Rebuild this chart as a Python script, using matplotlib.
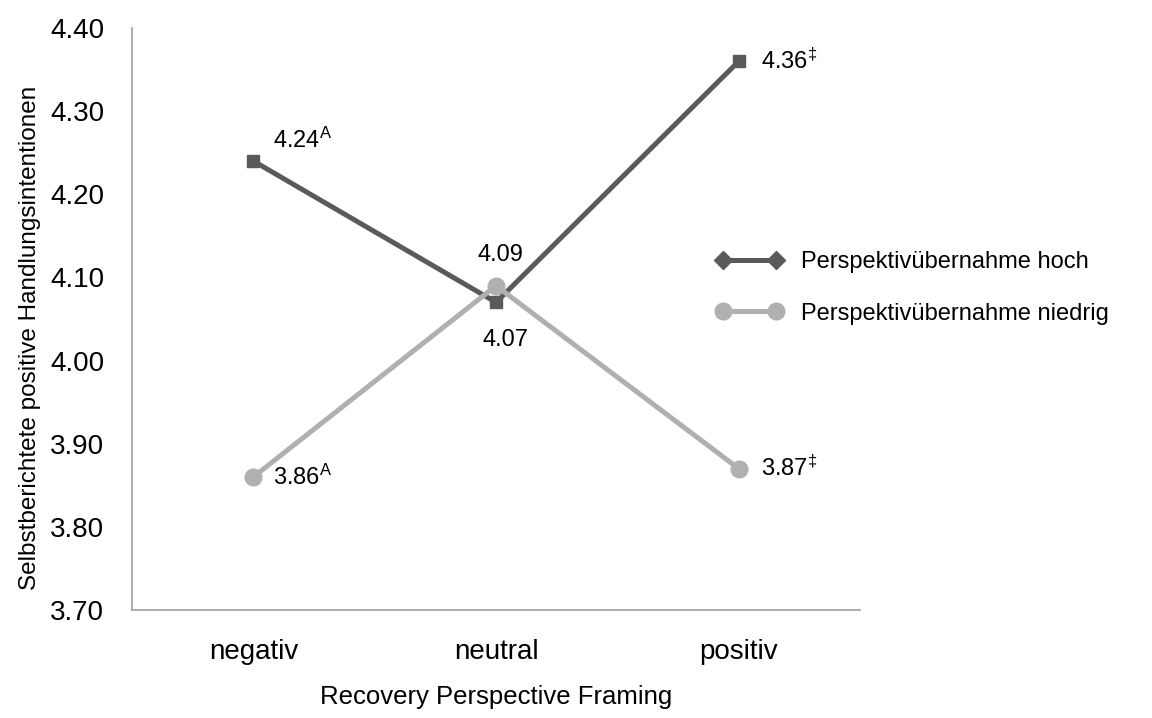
import matplotlib
matplotlib.use("Agg")
import matplotlib.pyplot as plt
from matplotlib.lines import Line2D

plt.rcParams["font.family"] = ["Liberation Sans", "DejaVu Sans"]
plt.rcParams["mathtext.fontset"] = "custom"
plt.rcParams["mathtext.rm"] = "Liberation Sans"
plt.rcParams["mathtext.it"] = "Liberation Sans"

categories = ["negativ", "neutral", "positiv"]
series_names = ["Perspektivübernahme hoch", "Perspektivübernahme niedrig"]
hoch = [4.24, 4.07, 4.36]
niedrig = [3.86, 4.09, 3.87]
hoch_marks = ["A", "", "‡"]
niedrig_marks = ["A", "", "‡"]
yticks = [3.70, 3.80, 3.90, 4.00, 4.10, 4.20, 4.30, 4.40]

DARK = "#5a5a5a"
LIGHT = "#b0b0b0"

fig = plt.figure(figsize=(11.52, 7.18), dpi=100)
ax = fig.add_axes([0.1146, 0.1504, 0.632, 0.8106])

x = list(range(len(categories)))
ax.plot(x, hoch, color=DARK, lw=3.6, marker="s", ms=9, zorder=2)
ax.plot(x, niedrig, color=LIGHT, lw=3.6, marker="o", ms=12, zorder=3)

ax.set_xlim(-0.5, 2.5)
ax.set_ylim(3.70, 4.40)
ax.set_yticks(yticks)
ax.set_yticklabels([f"{v:.2f}" for v in yticks])
ax.set_xticks(x)
ax.set_xticklabels(categories)
ax.tick_params(axis="both", length=0, labelsize=20)
ax.tick_params(axis="y", pad=20)
ax.tick_params(axis="x", pad=21)
for s in ["top", "right"]:
    ax.spines[s].set_visible(False)
for s in ["left", "bottom"]:
    ax.spines[s].set_color("#a0a0a0")
    ax.spines[s].set_linewidth(1.2)

ax.set_xlabel("Recovery Perspective Framing", fontsize=18.5)
ax.xaxis.set_label_coords(0.5, -0.128)
ax.set_ylabel("Selbstberichtete positive Handlungsintentionen", fontsize=17.5)
ax.yaxis.set_label_coords(-0.125, 0.468)


def label(v, mark):
    s = f"{v:.2f}"
    if mark:
        s += r"$^{\mathrm{" + mark + "}}$"
    return s


fs = 17
# Value labels: (series, marks, index, offset in points, ha)
placements = [
    (hoch, hoch_marks, 0, (14, 15), "left"),
    (hoch, hoch_marks, 1, (7, -27), "center"),
    (hoch, hoch_marks, 2, (16, 0), "left"),
    (niedrig, niedrig_marks, 0, (14, 0), "left"),
    (niedrig, niedrig_marks, 1, (3, 22), "center"),
    (niedrig, niedrig_marks, 2, (16, 0), "left"),
]
for vals, marks, i, off, ha in placements:
    ax.annotate(label(vals[i], marks[i]), (x[i], vals[i]), xytext=off,
                textcoords="offset points", fontsize=fs, ha=ha, va="center")

handles = [
    Line2D([], [], color=DARK, lw=3.6, marker="D", ms=9),
    Line2D([], [], color=LIGHT, lw=3.6, marker="o", ms=12),
]
fig.legend(handles, series_names, loc="upper left", bbox_to_anchor=(0.603, 0.680),
           frameon=False, fontsize=17, handlelength=2.85, handletextpad=0.75,
           labelspacing=1.25, numpoints=2)

fig.savefig("out.png", dpi=100, facecolor="white")
